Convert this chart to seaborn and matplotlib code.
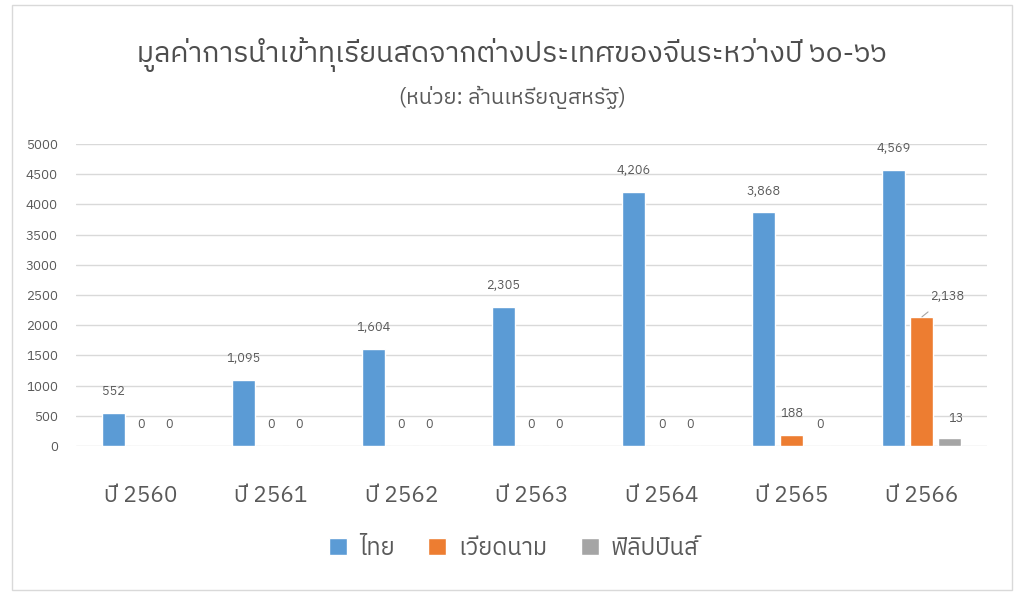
import matplotlib
matplotlib.use("Agg")
import numpy as np
import pandas as pd
import matplotlib.pyplot as plt
import seaborn as sns
from matplotlib import font_manager
from matplotlib.patches import Rectangle

years = ["ปี 2560", "ปี 2561", "ปี 2562", "ปี 2563", "ปี 2564", "ปี 2565", "ปี 2566"]
countries = ["ไทย", "เวียดนาม", "ฟิลิปปินส์"]
thai = [552, 1095, 1604, 2305, 4206, 3868, 4569]
vietnam = [0, 0, 0, 0, 0, 188, 2138]
philippines = [0, 0, 0, 0, 0, 0, 135]
philippines_labels = ["0", "0", "0", "0", "0", "0", "13"]
colors = ["#5B9BD5", "#ED7D31", "#A5A5A5"]

title = "มูลค่าการนำเข้าทุเรียนสดจากต่างประเทศของจีนระหว่างปี ๖๐-๖๖"
subtitle = "(หน่วย: ล้านเหรียญสหรัฐ)"


def find_thai_font():
    try:
        from fontTools.ttLib import TTFont
    except Exception:
        TTFont = None
    cands = []
    for f in font_manager.fontManager.ttflist:
        cands.append((0 if "thai" in f.name.lower() else 1, f.name, f.fname))
    cands.sort()
    for _, name, path in cands:
        if TTFont is None:
            if "thai" in name.lower():
                return name
            continue
        try:
            tt = TTFont(path, fontNumber=0, lazy=True)
            cmap = tt.getBestCmap()
            if cmap and 0x0E1B in cmap and 0x0E48 in cmap:
                return name
        except Exception:
            pass
    return None


sns.set_theme(style="white")
thai_font = find_thai_font()
fams = ([thai_font] if thai_font else []) + ["DejaVu Sans"]
plt.rcParams["font.family"] = fams

df = pd.DataFrame({
    "year": years * 3,
    "country": [countries[0]] * 7 + [countries[1]] * 7 + [countries[2]] * 7,
    "value": thai + vietnam + philippines,
})

fig = plt.figure(figsize=(10.24, 6), dpi=100)
ax = fig.add_axes([76 / 1024, 1 - 446 / 600, (987 - 76) / 1024, (446 - 144) / 600])

sns.barplot(data=df, x="year", y="value", hue="country", palette=colors,
            width=0.646, gap=0.18, ax=ax, legend=True, saturation=1)

ax.set_ylim(0, 5000)
ax.set_xlim(-0.5, 6.5)
ax.set_yticks(np.arange(0, 5001, 500))
ax.yaxis.grid(True, color="#D9D9D9", linewidth=1)
ax.set_axisbelow(True)
for s in ax.spines.values():
    s.set_visible(False)
ax.tick_params(axis="y", labelsize=9.6, colors="#595959", length=0, pad=13)
ax.tick_params(axis="x", labelsize=16.3, colors="#595959", length=0, pad=28)
ax.set_xlabel("")
ax.set_ylabel("")

# data labels
series_labels = [
    [f"{v:,}" for v in thai],
    [f"{v:,}" for v in vietnam],
    philippines_labels,
]
lab_kw = dict(ha="center", va="center", fontsize=9.2, color="#595959")
for ci, cont in enumerate(ax.containers):
    for i, bar in enumerate(cont):
        x = bar.get_x() + bar.get_width() / 2
        h = bar.get_height()
        txt = series_labels[ci][i]
        if ci == 1 and i == 6:
            ax.annotate(txt, xy=(x, h), xytext=(x + 0.19, h + 330),
                        arrowprops=dict(arrowstyle="-", color="#A6A6A6", lw=0.8,
                                        shrinkA=6, shrinkB=0), **lab_kw)
        elif ci == 2 and i == 6:
            ax.text(x + 0.05, h + 320, txt, **lab_kw)
        else:
            ax.text(x, h + 350, txt, **lab_kw)

leg = ax.legend(loc="center", bbox_to_anchor=(0.481, -0.338), ncol=3,
                frameon=False, fontsize=17, handlelength=0.75, handleheight=0.75,
                handletextpad=0.5, columnspacing=1.45)
for t in leg.get_texts():
    t.set_color("#595959")

fig.text(0.5, 1 - 55 / 600, title, ha="center", va="center", fontsize=20.5, color="#4D4D4D")
fig.text(0.5, 1 - 97 / 600, subtitle, ha="center", va="center", fontsize=15.5, color="#595959")

fig.patches.append(Rectangle((12 / 1024, 1 - 590 / 600), 1000 / 1024, 585 / 600,
                             transform=fig.transFigure, fill=False,
                             edgecolor="#D9D9D9", linewidth=1))

fig.savefig("out.png", dpi=100, facecolor="white")
